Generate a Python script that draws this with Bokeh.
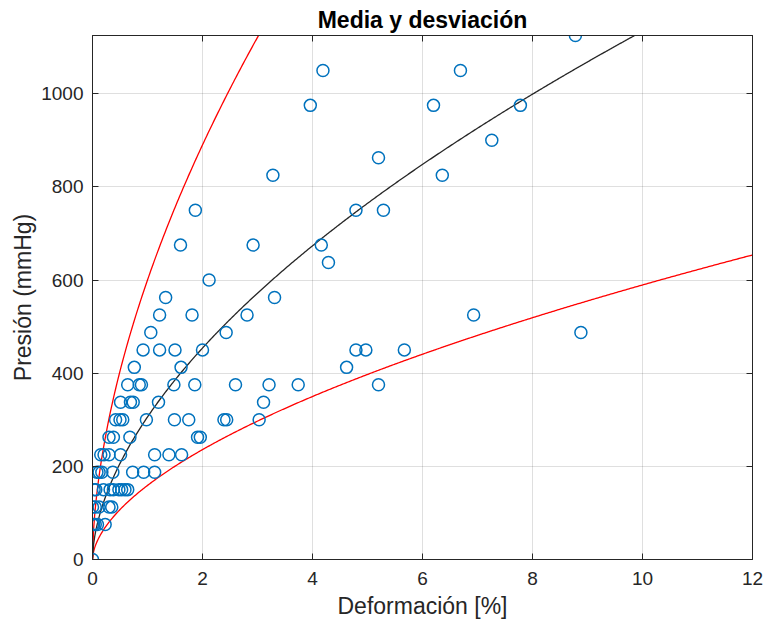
from bokeh.plotting import figure
from bokeh.models import Range1d, LinearAxis, FixedTicker, ColumnDataSource
from bokeh.embed import file_html
from bokeh.resources import INLINE
import numpy as np

# ---- data ----
deform = [
    8.78,
    4.19, 6.69,
    3.96, 6.20, 7.78,
    7.26,
    5.20,
    3.28, 6.36,
    1.87, 4.79, 5.29,
    1.60, 2.92, 4.16,
    4.29,
    2.12,
    1.33, 3.31,
    1.22, 1.81, 2.81, 6.93,
    1.06, 2.43, 8.88,
    0.92, 1.22, 1.50, 2.00, 4.79, 4.97, 5.67,
    0.76, 1.61, 4.62,
    0.64, 0.85, 0.89, 1.48, 1.86, 2.60, 3.21, 3.74, 5.20,
    0.51, 0.69, 0.74, 1.20, 3.11,
    0.42, 0.50, 0.55, 0.98, 1.49, 1.75, 2.39, 2.44, 3.03,
    0.30, 0.38, 0.68, 1.91, 1.96,
    0.15, 0.21, 0.30, 0.51, 1.13, 1.39, 1.62,
    0.08, 0.12, 0.17, 0.37, 0.73, 0.93, 1.13,
    0.03, 0.06, 0.20, 0.32, 0.38, 0.48, 0.53, 0.59, 0.64,
    0.00, 0.05, 0.12, 0.30, 0.35,
    0.00, 0.02, 0.05, 0.09, 0.23,
    0.00,
]
presion = (
    [1125.0]
    + [1050.0] * 2
    + [975.0] * 3
    + [900.0]
    + [862.5]
    + [825.0] * 2
    + [750.0] * 3
    + [675.0] * 3
    + [637.5]
    + [600.0]
    + [562.5] * 2
    + [525.0] * 4
    + [487.5] * 3
    + [450.0] * 7
    + [412.5] * 3
    + [375.0] * 9
    + [337.5] * 5
    + [300.0] * 9
    + [262.5] * 5
    + [225.0] * 7
    + [187.5] * 7
    + [150.0] * 9
    + [112.5] * 5
    + [75.0] * 5
    + [0.0]
)

# fitted power-law curves  y = a * x^b
curve_exp = 0.569
mean_coef = 306.0
upper_coef = 600.0
lower_coef = 159.0

x_ticks = [0, 2, 4, 6, 8, 10, 12]
y_ticks = [0, 200, 400, 600, 800, 1000]

# ---- figure ----
p = figure(width=766, height=632, output_backend="svg", toolbar_location=None,
           x_range=Range1d(0, 12), y_range=Range1d(0, 1125),
           min_border_left=92, min_border_right=14, min_border_top=35,
           min_border_bottom=73, title="Media y desviación")
p.background_fill_color = "white"
p.border_fill_color = "white"
p.outline_line_color = "#262626"
p.outline_line_width = 1
p.outline_line_alpha = 1

p.title.align = "center"
p.title.text_font = "Liberation Sans"
p.title.text_font_size = "23px"
p.title.text_font_style = "bold"
p.title.text_color = "black"
p.title.offset = 0
p.title.standoff = 5

for ax in (p.xaxis[0], p.yaxis[0]):
    ax.axis_line_color = "#262626"
    ax.major_tick_line_color = "#262626"
    ax.major_tick_in = 6
    ax.major_tick_out = 0
    ax.minor_tick_line_color = None
    ax.major_label_text_font = "Liberation Sans"
    ax.major_label_text_font_size = "19px"
    ax.major_label_text_color = "#262626"
    ax.axis_label_text_font = "Liberation Sans"
    ax.axis_label_text_font_size = "23px"
    ax.axis_label_text_font_style = "normal"
    ax.axis_label_text_color = "#262626"

p.xaxis[0].ticker = FixedTicker(ticks=x_ticks)
p.yaxis[0].ticker = FixedTicker(ticks=y_ticks)
p.xaxis[0].axis_label = "Deformación [%]"
p.yaxis[0].axis_label = "Presión (mmHg)"
p.xaxis[0].major_label_standoff = 12
p.xaxis[0].axis_label_standoff = 5
p.yaxis[0].major_label_standoff = 9
p.yaxis[0].axis_label_standoff = 2

# top and right ticks (box), labels not drawn
top = LinearAxis(ticker=FixedTicker(ticks=x_ticks), major_label_text_font_size="1px",
                 major_label_text_color=None,
                 major_tick_in=6, major_tick_out=0, minor_tick_line_color=None,
                 axis_line_color="#262626", major_tick_line_color="#262626",
                 major_label_standoff=0)
right = LinearAxis(ticker=FixedTicker(ticks=y_ticks), major_label_text_font_size="1px",
                   major_label_text_color=None,
                   major_tick_in=6, major_tick_out=0, minor_tick_line_color=None,
                   axis_line_color="#262626", major_tick_line_color="#262626",
                   major_label_standoff=0)
p.add_layout(top, "above")
p.add_layout(right, "right")

p.xgrid.ticker = FixedTicker(ticks=x_ticks)
p.ygrid.ticker = FixedTicker(ticks=y_ticks)
p.grid.grid_line_color = "#262626"
p.grid.grid_line_alpha = 0.15
p.grid.grid_line_width = 1

# curves
xc = np.linspace(0, 12, 600)
p.line(xc, upper_coef * xc ** curve_exp, line_color="#FF0000", line_width=1.3)
p.line(xc, lower_coef * xc ** curve_exp, line_color="#FF0000", line_width=1.3)
p.line(xc, mean_coef * xc ** curve_exp, line_color="#262626", line_width=1.3)

src = ColumnDataSource(data=dict(x=deform, y=presion))
p.scatter("x", "y", source=src, marker="circle", size=12, fill_color=None,
          line_color="#0072BD", line_width=1.5)

open("out.html", "w").write(file_html(p, INLINE))
